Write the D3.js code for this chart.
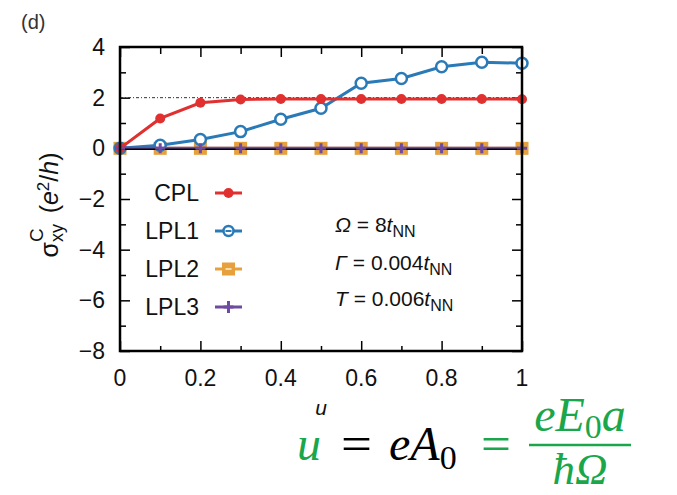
<!DOCTYPE html>
<html>
<head>
<meta charset="utf-8">
<script src="https://cdn.jsdelivr.net/npm/d3@7"></script>
<style>
  body { margin: 0; background: #fff; }
  text { font-family: "Liberation Sans", Arial, sans-serif; }
  text.math { font-family: "Liberation Serif", "DejaVu Serif", serif; }
</style>
</head>
<body>
<div id="chart"></div>
<script>
// data
var uValues = [0, 0.1, 0.2, 0.3, 0.4, 0.5, 0.6, 0.7, 0.8, 0.9, 1.0];
var cpl  = [0, 1.18, 1.80, 1.93, 1.95, 1.95, 1.95, 1.95, 1.95, 1.95, 1.94];
var lpl1 = [0, 0.12, 0.35, 0.66, 1.15, 1.58, 2.57, 2.76, 3.22, 3.40, 3.36];
var lpl2 = [0, 0, 0, 0, 0, 0, 0, 0, 0, 0, 0];
var lpl3 = [0, 0, 0, 0, 0, 0, 0, 0, 0, 0, 0];
var seriesNames = ["CPL", "LPL1", "LPL2", "LPL3"];
var xTickLabels = [0, 0.2, 0.4, 0.6, 0.8, 1];
var yTickLabels = [4, 2, 0, -2, -4, -6, -8];

var svgWidth = 677;
var svgHeight = 495;

var margin = { top: 47, right: 155, bottom: 144, left: 120 };
var width = svgWidth - margin.left - margin.right;
var height = svgHeight - margin.top - margin.bottom;

var svg = d3.select("#chart")
    .append("svg")
    .attr("width", svgWidth)
    .attr("height", svgHeight);

svg.append("rect").attr("width", svgWidth).attr("height", svgHeight).attr("fill", "#fff");

var chartGroup = svg.append("g")
    .attr("transform", `translate(${margin.left}, ${margin.top})`);

var xScale = d3.scaleLinear().domain([0, 1]).range([0, width]);
var yScale = d3.scaleLinear().domain([-8, 4]).range([height, 0]);

var fmt = function(d) { return d < 0 ? "\u2212" + Math.abs(d) : String(d); };

// major + minor ticks, pointing inward, on all four sides
function tickSet(axis, values, size) {
    return axis.tickValues(values).tickSize(size).tickFormat("");
}
var xMinor = [0.1, 0.3, 0.5, 0.7, 0.9];
var yMinor = [3, 1, -1, -3, -5, -7];

chartGroup.append("g").attr("class", "ax").attr("transform", `translate(0, ${height})`)
    .call(tickSet(d3.axisTop(xScale), xTickLabels, 10));
chartGroup.append("g").attr("class", "ax").attr("transform", `translate(0, ${height})`)
    .call(tickSet(d3.axisTop(xScale), xMinor, 5));
chartGroup.append("g").attr("class", "ax")
    .call(tickSet(d3.axisBottom(xScale), xTickLabels, 10));
chartGroup.append("g").attr("class", "ax")
    .call(tickSet(d3.axisBottom(xScale), xMinor, 7));
chartGroup.append("g").attr("class", "ax")
    .call(tickSet(d3.axisRight(yScale), yTickLabels, 10));
chartGroup.append("g").attr("class", "ax")
    .call(tickSet(d3.axisRight(yScale), yMinor, 6));
chartGroup.append("g").attr("class", "ax").attr("transform", `translate(${width}, 0)`)
    .call(tickSet(d3.axisLeft(yScale), yTickLabels, 10));
chartGroup.append("g").attr("class", "ax").attr("transform", `translate(${width}, 0)`)
    .call(tickSet(d3.axisLeft(yScale), yMinor, 6));

chartGroup.selectAll(".ax .domain").remove();
chartGroup.selectAll(".ax line").attr("stroke", "#000").attr("stroke-width", 1.5);

// tick labels
chartGroup.append("g").selectAll("text")
    .data(xTickLabels).enter().append("text")
    .attr("x", d => xScale(d))
    .attr("y", height + 35)
    .attr("text-anchor", "middle")
    .attr("font-size", 23)
    .attr("fill", "#111")
    .text(fmt);

chartGroup.append("g").selectAll("text")
    .data(yTickLabels).enter().append("text")
    .attr("x", -15)
    .attr("y", d => yScale(d) + 8)
    .attr("text-anchor", "end")
    .attr("font-size", 23)
    .attr("fill", "#111")
    .text(fmt);

// dotted reference line at 2
chartGroup.append("line")
    .attr("x1", 0).attr("x2", width)
    .attr("y1", yScale(2)).attr("y2", yScale(2))
    .attr("stroke", "#333").attr("stroke-width", 1)
    .attr("stroke-dasharray", "3,2,1,2");

var colors = { CPL: "#e03030", LPL1: "#2a7ab8", LPL2: "#e6a03c", LPL3: "#6e4aa0" };
var seriesData = { CPL: cpl, LPL1: lpl1, LPL2: lpl2, LPL3: lpl3 };

var line = d3.line()
    .x(d => xScale(d[0]))
    .y(d => yScale(d[1]));

function pts(name) {
    return uValues.map((u, i) => [u, seriesData[name][i]]);
}

// LPL2 (orange squares)
chartGroup.append("path").datum(pts("LPL2"))
    .attr("d", line).attr("fill", "none")
    .attr("stroke", colors.LPL2).attr("stroke-width", 3);
chartGroup.append("g").selectAll("rect")
    .data(pts("LPL2")).enter().append("rect")
    .attr("x", d => xScale(d[0]) - 6.5)
    .attr("y", d => yScale(d[1]) - 6.5)
    .attr("width", 13).attr("height", 13)
    .attr("fill", colors.LPL2);

// LPL1 (blue open circles)
chartGroup.append("path").datum(pts("LPL1"))
    .attr("d", line).attr("fill", "none")
    .attr("stroke", colors.LPL1).attr("stroke-width", 3);
chartGroup.append("g").selectAll("circle")
    .data(pts("LPL1")).enter().append("circle")
    .attr("cx", d => xScale(d[0]))
    .attr("cy", d => yScale(d[1]))
    .attr("r", 5.5)
    .attr("fill", "#fff")
    .attr("stroke", colors.LPL1).attr("stroke-width", 2.5);

// CPL (red filled circles)
chartGroup.append("path").datum(pts("CPL"))
    .attr("d", line).attr("fill", "none")
    .attr("stroke", colors.CPL).attr("stroke-width", 3);
chartGroup.append("g").selectAll("circle")
    .data(pts("CPL")).enter().append("circle")
    .attr("cx", d => xScale(d[0]))
    .attr("cy", d => yScale(d[1]))
    .attr("r", 5)
    .attr("fill", colors.CPL);

// LPL3 (purple plus) + zero line
chartGroup.append("path").datum(pts("LPL3"))
    .attr("d", line).attr("fill", "none")
    .attr("stroke", colors.LPL3).attr("stroke-width", 3);
chartGroup.append("line")
    .attr("x1", 0).attr("x2", width)
    .attr("y1", yScale(0) + 1).attr("y2", yScale(0) + 1)
    .attr("stroke", "#000").attr("stroke-width", 1.5);
chartGroup.append("g").selectAll("path")
    .data(pts("LPL3")).enter().append("path")
    .attr("d", d => {
        var x = xScale(d[0]), y = yScale(d[1]);
        return `M${x - 5},${y}H${x + 5}M${x},${y - 5}V${y + 5}`;
    })
    .attr("stroke", colors.LPL3).attr("stroke-width", 3);

// frame
chartGroup.append("rect")
    .attr("width", width).attr("height", height)
    .attr("fill", "none").attr("stroke", "#000").attr("stroke-width", 2.5);

// legend
var legend = chartGroup.append("g");
seriesNames.forEach(function(name, i) {
    var ly = 146 + i * 38;
    legend.append("text")
        .attr("x", 79).attr("y", ly + 8)
        .attr("text-anchor", "end")
        .attr("font-size", 23).attr("fill", "#111")
        .text(name);
    legend.append("line")
        .attr("x1", 95).attr("x2", 122)
        .attr("y1", ly).attr("y2", ly)
        .attr("stroke", colors[name]).attr("stroke-width", 3);
    var cx = 108.5;
    if (name === "CPL") {
        legend.append("circle").attr("cx", cx).attr("cy", ly).attr("r", 5).attr("fill", colors[name]);
    } else if (name === "LPL1") {
        legend.append("circle").attr("cx", cx).attr("cy", ly).attr("r", 5)
            .attr("fill", "#fff").attr("stroke", colors[name]).attr("stroke-width", 2.5);
        legend.append("line").attr("x1", cx - 3).attr("x2", cx + 3).attr("y1", ly).attr("y2", ly)
            .attr("stroke", colors[name]).attr("stroke-width", 2);
    } else if (name === "LPL2") {
        legend.append("rect").attr("x", cx - 6.5).attr("y", ly - 6.5)
            .attr("width", 13).attr("height", 13).attr("fill", colors[name]);
        legend.append("line").attr("x1", cx - 3).attr("x2", cx + 3).attr("y1", ly).attr("y2", ly)
            .attr("stroke", "#f6dcb0").attr("stroke-width", 2);
    } else {
        legend.append("path")
            .attr("d", `M${cx - 5},${ly}H${cx + 5}M${cx},${ly - 6}V${ly + 6}`)
            .attr("stroke", colors[name]).attr("stroke-width", 3);
    }
});

// parameter annotations
var params = [
    { sym: "\u03A9", val: " = 8" },
    { sym: "\u0393", val: " = 0.004" },
    { sym: "T", val: " = 0.006" }
];
params.forEach(function(p, i) {
    var t = chartGroup.append("text")
        .attr("x", 215).attr("y", [185, 223, 259][i])
        .attr("font-size", 21).attr("fill", "#111");
    t.append("tspan").attr("font-style", "italic").text(p.sym);
    t.append("tspan").text(p.val);
    t.append("tspan").attr("font-style", "italic").text("t");
    t.append("tspan").attr("font-size", 16).attr("dy", 5).text("NN");
});

// axis labels
chartGroup.append("text")
    .attr("x", width / 2)
    .attr("y", height + 64)
    .attr("text-anchor", "middle")
    .attr("font-size", 21)
    .attr("font-style", "italic")
    .attr("fill", "#111")
    .text("u");

var yl = svg.append("text")
    .attr("transform", "translate(58, 205) rotate(-90)")
    .attr("text-anchor", "middle")
    .attr("font-size", 25)
    .attr("fill", "#111");
yl.append("tspan").text("\u03C3");
yl.append("tspan").attr("font-size", 18).attr("dy", 5).text("xy");
yl.append("tspan").attr("font-size", 19).attr("dx", -18).attr("dy", -20).text("C");
yl.append("tspan").attr("dx", 15).attr("dy", 15).text("(");
yl.append("tspan").attr("font-style", "italic").text("e");
yl.append("tspan").attr("font-size", 17).attr("dy", -9).text("2");
yl.append("tspan").attr("dy", 9).text("/");
yl.append("tspan").attr("font-style", "italic").text("h");
yl.append("tspan").text(")");

// panel tag
svg.append("text")
    .attr("x", 21).attr("y", 29)
    .attr("font-size", 20).attr("fill", "#333")
    .text("(d)");

// formula underneath
var green = "#1aa64a";
function mtext(x, y, fill) {
    return svg.append("text").attr("class", "math")
        .attr("x", x).attr("y", y).attr("font-size", 48).attr("fill", fill);
}
mtext(297, 460, green).attr("font-style", "italic").text("u");
mtext(341, 460, "#000").attr("textLength", 31).attr("lengthAdjust", "spacingAndGlyphs").text("=");
var ea = mtext(389, 460, "#000");
ea.append("tspan").attr("font-style", "italic").text("eA");
ea.append("tspan").attr("font-size", 34).attr("dy", 9).text("0");
mtext(481, 460, green).attr("textLength", 30).attr("lengthAdjust", "spacingAndGlyphs").text("=");
var num = mtext(580, 431, green).attr("text-anchor", "middle");
num.append("tspan").attr("font-style", "italic").text("eE");
num.append("tspan").attr("font-size", 34).attr("dy", 7).text("0");
num.append("tspan").attr("font-style", "italic").attr("dy", -7).text("a");
svg.append("line").attr("x1", 529).attr("x2", 631).attr("y1", 445).attr("y2", 445)
    .attr("stroke", green).attr("stroke-width", 2.5);
mtext(580, 484, green).attr("font-size", 45).attr("text-anchor", "middle")
    .attr("font-style", "italic").text("\u0127\u03A9");
</script>
</body>
</html>
